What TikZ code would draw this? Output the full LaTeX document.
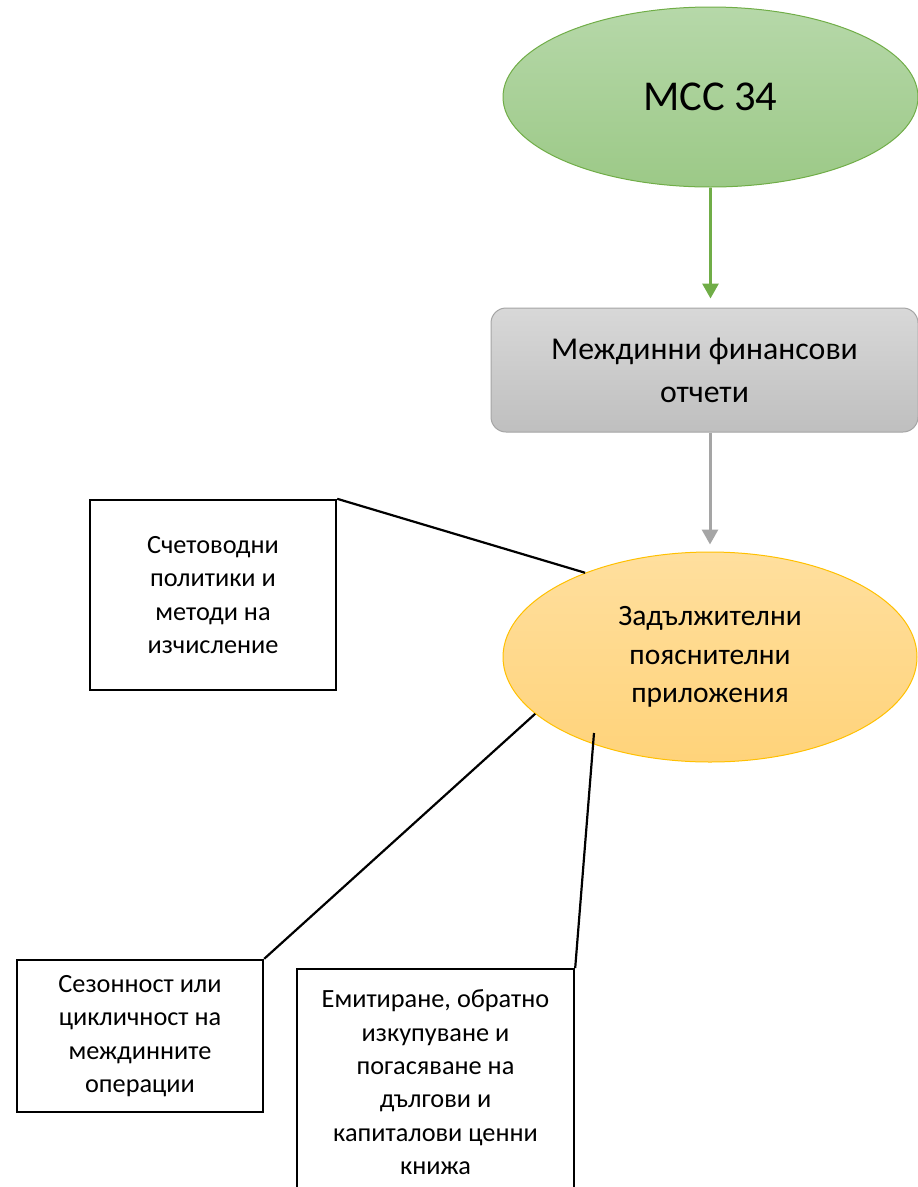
\documentclass[tikz,border=0pt]{standalone}
\usepackage{fontspec}
\setmainfont{Carlito}
\usepackage{xcolor}
\definecolor{leafLine}{HTML}{70AD47}
\definecolor{leafTop}{HTML}{B6D8A9}
\definecolor{leafBot}{HTML}{9CC987}
\definecolor{slateLine}{HTML}{A5A5A5}
\definecolor{slateTop}{HTML}{D8D8D8}
\definecolor{slateBot}{HTML}{BFBFBF}
\definecolor{sunLine}{HTML}{FFC000}
\definecolor{sunTop}{HTML}{FFDF9E}
\definecolor{sunBot}{HTML}{FFD37A}
\usetikzlibrary{arrows.meta,positioning,shapes.geometric,calc}
\tikzset{
  >={Triangle[length=15pt,width=16pt]},
  every picture/.append style={x=1pt,y=-1pt},
  ovalgreen/.style={ellipse,draw=leafLine,line width=1pt,top color=leafTop,bottom color=leafBot,inner sep=0pt,minimum width=415pt,minimum height=180pt,font=\fontsize{42.5}{48}\selectfont},
  slatebox/.style={rectangle,rounded corners=15pt,draw=slateLine,line width=1pt,top color=slateTop,bottom color=slateBot,inner sep=0pt,minimum width=427pt,minimum height=124pt,align=center,font=\fontsize{31.8}{43}\selectfont},
  ovalsun/.style={ellipse,draw=sunLine,line width=1pt,top color=sunTop,bottom color=sunBot,inner sep=0pt,minimum width=414pt,minimum height=210pt,align=center,font=\fontsize{29.5}{38.5}\selectfont},
  notebox/.style={rectangle,draw=black,line width=2.4pt,fill=white,inner sep=0pt,align=center,font=\fontsize{26.3}{33.3}\selectfont},
  greenarrow/.style={->,draw=leafLine,line width=3pt},
  grayarrow/.style={->,draw=slateLine,line width=3pt},
  linkline/.style={draw=black,line width=2.2pt},
}
\begin{document}
\begin{tikzpicture}
  \useasboundingbox (0,0) rectangle (918,1187);
  % main chain
  \node[ovalgreen] (mcc) at (710.5,97) {МСС 34};
  \node[slatebox] (interim) at (704.5,370) {Междинни финансови\\отчети};
  \node[ovalsun] (notes) at (710,657) {Задължителни\\пояснителни\\приложения};
  \draw[greenarrow, shorten >=9pt] (mcc.south) -- (mcc.south |- interim.north);
  \draw[grayarrow, shorten >=7pt] (notes.north |- interim.south) -- (notes.north);
  % side notes
  \node[notebox, minimum width=246pt, minimum height=190pt] (policies) at (213,595) {Счетоводни\\политики и\\методи на\\изчисление};
  \node[notebox, minimum width=246pt, minimum height=152pt] (season) at (140,1036) {Сезонност или\\цикличност на\\междинните\\операции};
  \node[notebox, minimum width=277pt, minimum height=226pt, anchor=north] (issue) at (435.5,968) {Емитиране, обратно\\изкупуване и\\погасяване на\\дългови и\\капиталови ценни\\книжа};
  \coordinate (inner) at ($(notes.center)+(-116,76)$);
  \draw[linkline] (policies.north east) -- (notes.146.4);
  \draw[linkline] (season.north east) -- (notes.198.3);
  \draw[linkline] (issue.north east) -- (inner);
\end{tikzpicture}
\end{document}
